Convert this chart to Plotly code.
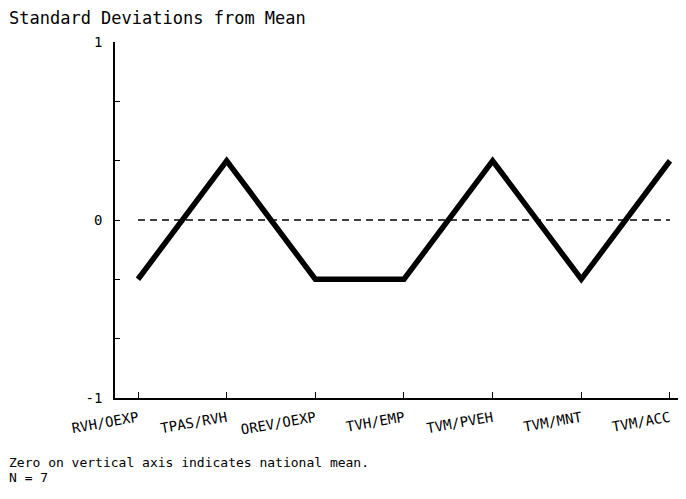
import plotly.graph_objects as go

categories = ["RVH/OEXP", "TPAS/RVH", "OREV/OEXP", "TVH/EMP", "TVM/PVEH", "TVM/MNT", "TVM/ACC"]
values = [-0.333, 0.333, -0.333, -0.333, 0.333, -0.333, 0.333]
mean_line = [0, 0, 0, 0, 0, 0, 0]
y_tickvals = [-1, -2/3, -1/3, 0, 1/3, 2/3, 1]
y_ticktext = ["-1", "", "", "0", "", "", "1"]

FONT = "DejaVu Sans Mono"
xi = list(range(len(categories)))

# page offset of the figure inside the browser window (body margin)
OFF = 8
W, H = 686, 499
L, R, T, B = 115 - OFF, 0, 42 - OFF, H - (398 - OFF)

fig = go.Figure()
fig.add_trace(go.Scatter(x=xi, y=mean_line, mode="lines",
                         line=dict(color="black", width=1.5, dash="7px,5px"),
                         hoverinfo="skip"))
fig.add_trace(go.Scatter(x=xi, y=values, mode="lines",
                         line=dict(color="black", width=5.5)))

pw, ph = W - L - R, H - T - B
step = 88.66
x0 = -(138 - 115) / step
x1 = x0 + pw / step

fig.update_layout(
    width=W, height=H,
    margin=dict(l=L, r=R, t=T, b=B),
    paper_bgcolor="white", plot_bgcolor="white",
    showlegend=False,
    font=dict(family=FONT, color="black", size=14),
    xaxis=dict(range=[x0, x1], tickvals=xi, ticktext=categories,
               tickangle=-10, ticks="inside", ticklen=6, tickcolor="black",
               ticklabelstandoff=5,
               showgrid=False, zeroline=False, showline=True, linecolor="black",
               linewidth=1.5, tickfont=dict(family=FONT, size=14)),
    yaxis=dict(range=[-1, 1], tickvals=y_tickvals, ticktext=y_ticktext,
               ticks="inside", ticklen=5, tickcolor="black", ticklabelstandoff=8,
               showgrid=False, zeroline=False, showline=True, linecolor="black",
               linewidth=1.5, tickfont=dict(family=FONT, size=14)),
)

def px(x):
    return (x - OFF - L) / pw
def py(y):
    return (H - B - (y - OFF)) / ph

fig.add_annotation(text="Standard Deviations from Mean", x=px(7), y=py(18), xref="paper", yref="paper",
                   showarrow=False, xanchor="left", yanchor="middle", font=dict(family=FONT, size=17))
fig.add_annotation(text="Zero on vertical axis indicates national mean.", x=px(7), y=py(462),
                   xref="paper", yref="paper", showarrow=False, xanchor="left", yanchor="middle",
                   font=dict(family=FONT, size=13))
fig.add_annotation(text="N = 7", x=px(7), y=py(477),
                   xref="paper", yref="paper", showarrow=False, xanchor="left", yanchor="middle",
                   font=dict(family=FONT, size=13))

fig.write_html("out.html")
